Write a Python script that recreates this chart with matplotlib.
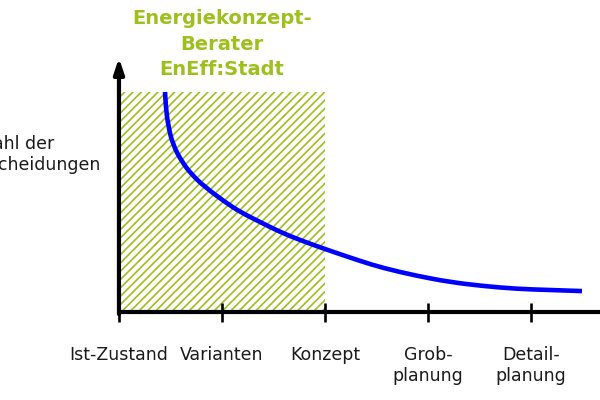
import matplotlib
matplotlib.use("Agg")
import matplotlib.pyplot as plt
from matplotlib.patches import Rectangle, PathPatch
from matplotlib.path import Path

# %% Daten
phasen = ["Ist-Zustand", "Varianten", "Konzept", "Grob-\nplanung", "Detail-\nplanung"]
phasen_pos = [0, 1, 2, 3, 4]

# Kurve: Anzahl der Entscheidungen (relativ) über den Planungsphasen
kurve_x = [0.447, 0.453, 0.476, 0.524, 0.612, 0.709, 0.835, 1.029, 1.175, 1.369, 1.563,
           1.757, 2.000, 2.340, 2.563, 2.893, 3.214, 3.534, 3.864, 4.184, 4.495]
kurve_y = [1.000, 0.941, 0.850, 0.759, 0.682, 0.623, 0.568, 0.500, 0.455, 0.409, 0.364,
           0.327, 0.286, 0.232, 0.200, 0.164, 0.136, 0.118, 0.105, 0.100, 0.095]

# Bereich des Energiekonzept-Beraters
berater_von = 0.02
berater_bis = 2
berater_hoehe = 1.0

titel = "Energiekonzept-\nBerater\nEnEff:Stadt"
ylabel = "Anzahl der\nEntscheidungen"

gruen = "#9dc01c"
blau = "#0000ff"

# %% Grafik
plt.rcParams["hatch.linewidth"] = 1.2
fig = plt.figure(figsize=(6, 4), dpi=100)
ax = fig.add_axes([0, 0, 1, 1])
ax.set_xlim(-1.155, 4.670)
ax.set_ylim(-0.40, 1.418)
ax.axis("off")

# schraffierter Bereich
ax.add_patch(Rectangle((berater_von, 0), berater_bis - berater_von, berater_hoehe,
                       facecolor="white", edgecolor=gruen, hatch="////",
                       linewidth=0, zorder=1))

pts = list(zip(kurve_x, kurve_y))
verts = [pts[0]]
codes = [Path.MOVETO]
for i in range(1, len(pts) - 1):
    mitte = ((pts[i][0] + pts[i + 1][0]) / 2, (pts[i][1] + pts[i + 1][1]) / 2)
    if i == len(pts) - 2:
        mitte = pts[-1]
    verts += [pts[i], mitte]
    codes += [Path.CURVE3, Path.CURVE3]
ax.add_patch(PathPatch(Path(verts, codes), facecolor="none", edgecolor=blau,
                       linewidth=3.3, capstyle="butt", zorder=3))

# Achsen
ax.plot([0, 4.7], [0, 0], color="black", linewidth=3, zorder=4,
        solid_capstyle="butt")
ax.annotate("", xy=(0, 1.155), xytext=(0, -0.01),
            arrowprops=dict(arrowstyle="-|>,head_length=0.9,head_width=0.3",
                            color="black", linewidth=3, shrinkA=0, shrinkB=0),
            zorder=4)
ax.vlines(phasen_pos, -0.045, 0.041, color="black", linewidth=1.9, zorder=4)

for pos, name in zip(phasen_pos, phasen):
    ax.text(pos, -0.155, name, ha="center", va="top", fontsize=12.5,
            linespacing=1.2, color="#1a1a1a")

ax.text(-0.175, 0.716, ylabel, ha="right", va="center", multialignment="left",
        fontsize=12.5, linespacing=1.2, color="#1a1a1a")

ax.text(1, 1.218, titel, ha="center", va="center", fontsize=14,
        fontweight="bold", color=gruen, linespacing=1.45)

fig.savefig("out.png", dpi=100)
